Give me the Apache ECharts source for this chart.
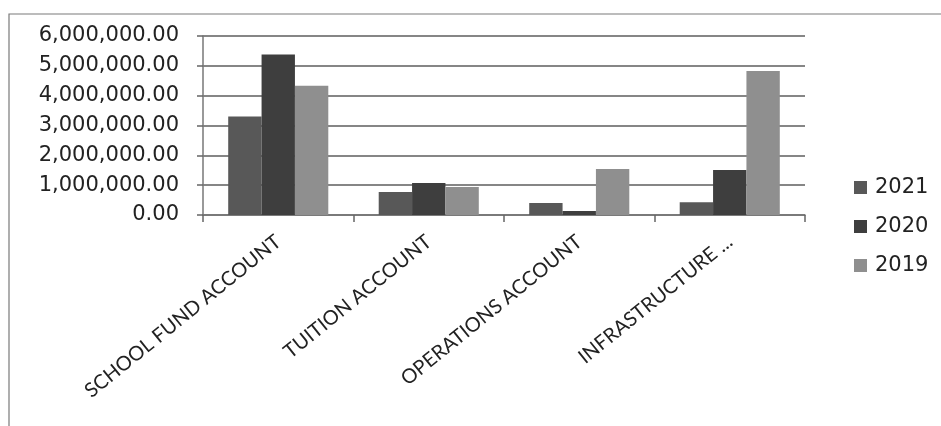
<!DOCTYPE html>
<html>
<head>
<meta charset="utf-8">
<script src="https://cdn.jsdelivr.net/npm/echarts@6/dist/echarts.min.js"></script>
<style>
  html, body { margin: 0; padding: 0; background: #fff; }
  #chart { width: 941px; height: 426px; }
</style>
</head>
<body>
<div id="chart"></div>
<script>
// Account balances by year
const categories = ['SCHOOL FUND ACCOUNT', 'TUITION ACCOUNT', 'OPERATIONS ACCOUNT', 'INFRASTRUCTURE ...'];
const years = ['2021', '2020', '2019'];
const values2021 = [3300000, 770000, 400000, 430000];
const values2020 = [5380000, 1070000, 130000, 1510000];
const values2019 = [4330000, 940000, 1540000, 4830000];
const yTicks = [0, 1000000, 2000000, 3000000, 4000000, 5000000, 6000000];

const seriesValues = [values2021, values2020, values2019];
const colors = ['#585858', '#3e3e3e', '#8f8f8f'];

const chart = echarts.init(document.getElementById('chart'));

function money(v) {
  return v.toLocaleString('en-US', { minimumFractionDigits: 2, maximumFractionDigits: 2 });
}

chart.setOption({
  animation: false,
  backgroundColor: '#ffffff',
  graphic: [
    {
      type: 'polyline',
      shape: { points: [[9, 430], [9, 14], [945, 14]] },
      style: { stroke: '#7a7a7a', lineWidth: 1.2, fill: null }
    }
  ],
  grid: { left: 203, right: 136, top: 36, bottom: 211, containLabel: false },
  legend: {
    orient: 'vertical',
    left: 849,
    top: 172,
    itemWidth: 13,
    itemHeight: 13,
    itemGap: 18,
    icon: 'rect',
    data: years,
    textStyle: { fontFamily: 'DejaVu Sans', fontSize: 21, color: '#222', padding: [0, 0, 0, 3] }
  },
  xAxis: {
    type: 'category',
    data: categories,
    boundaryGap: true,
    axisLine: { lineStyle: { color: '#777', width: 1.5 } },
    axisTick: { show: true, length: 7, lineStyle: { color: '#666', width: 1.5 } },
    axisLabel: {
      rotate: 39,
      margin: 24,
      interval: 0,
      fontFamily: 'Lato',
      fontSize: 20,
      color: '#222'
    }
  },
  yAxis: {
    type: 'value',
    min: yTicks[0],
    max: yTicks[yTicks.length - 1],
    interval: yTicks[1] - yTicks[0],
    axisLine: { show: true, lineStyle: { color: '#777', width: 1.5 } },
    axisTick: { show: true, length: 6, lineStyle: { color: '#666', width: 1.5 } },
    splitLine: { lineStyle: { color: '#5e5e5e', width: 1.5 } },
    axisLabel: {
      margin: 24,
      fontFamily: 'DejaVu Sans',
      fontSize: 21,
      color: '#222',
      formatter: money
    }
  },
  series: years.map((y, i) => ({
    name: y,
    type: 'bar',
    data: seriesValues[i],
    barGap: '0%',
    barCategoryGap: '33.5%',
    itemStyle: { color: colors[i] }
  }))
});
</script>
</body>
</html>
